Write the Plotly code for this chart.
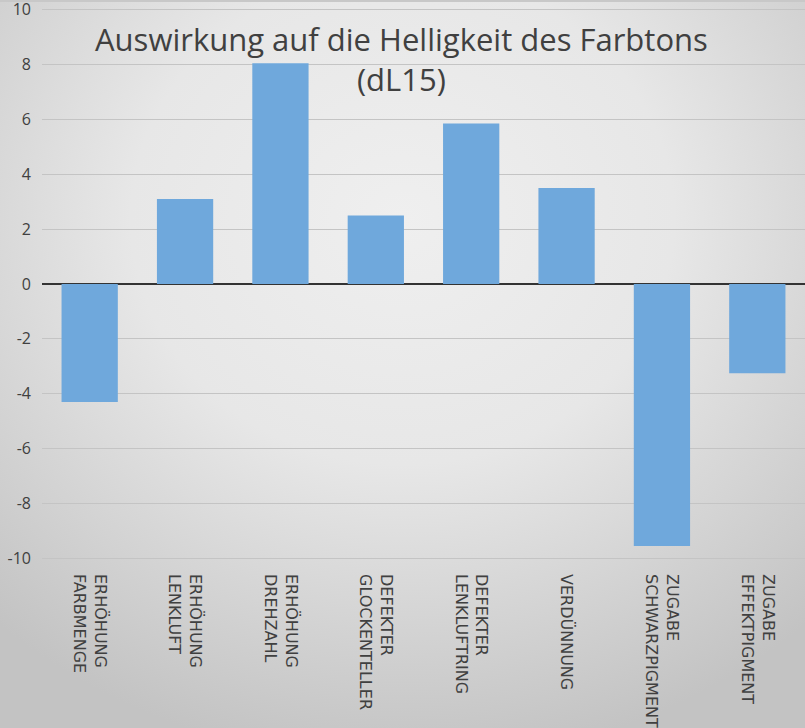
import base64
import plotly.graph_objects as go

categories = [
    "ERHÖHUNG<br>FARBMENGE",
    "ERHÖHUNG<br>LENKLUFT",
    "ERHÖHUNG<br>DREHZAHL",
    "DEFEKTER<br>GLOCKENTELLER",
    "DEFEKTER<br>LENKLUFTRING",
    "VERDÜNNUNG",
    "ZUGABE<br>SCHWARZPIGMENT",
    "ZUGABE<br>EFFEKTPIGMENT",
]
values = [-4.3, 3.1, 8.05, 2.5, 5.85, 3.5, -9.55, -3.25]
y_tickvals = [-10, -8, -6, -4, -2, 0, 2, 4, 6, 8, 10]
y_ticktext = ["-10", "-8", "-6", "-4", "-2", "0", "2", "4", "6", "8", "10"]
title_text = "Auswirkung auf die Helligkeit des Farbtons<br>(dL15)"

W, H = 805, 728
ML, MR, MT, MB = 42, 0, 7, 167
PW, PH = W - ML - MR, H - MT - MB

svg = f'''<svg xmlns="http://www.w3.org/2000/svg" width="{W}" height="{H}" viewBox="0 0 {W} {H}" preserveAspectRatio="none">
<defs><radialGradient id="g" cx="0.5" cy="0.3" r="0.75" fx="0.5" fy="0.3">
<stop offset="0" stop-color="#efefef"/>
<stop offset="0.45" stop-color="#e7e7e7"/>
<stop offset="1" stop-color="#c3c3c3"/>
</radialGradient></defs>
<rect width="{W}" height="{H}" fill="url(#g)"/>
<rect width="{W}" height="2" fill="#c8c8c8"/>
</svg>'''
bg_src = "data:image/svg+xml;base64," + base64.b64encode(svg.encode()).decode()

fig = go.Figure(
    go.Bar(
        x=categories,
        y=values,
        marker=dict(color="#6FA8DC", line=dict(width=0)),
    )
)

title_center_px = 59
fig.update_layout(
    width=W,
    height=H,
    margin=dict(l=ML, r=MR, t=MT, b=MB),
    paper_bgcolor="#dcdcdc",
    plot_bgcolor="rgba(0,0,0,0)",
    bargap=0.41,
    showlegend=False,
    font=dict(family="Open Sans", color="#404040"),
    annotations=[
        dict(
            text=title_text,
            font=dict(family="Open Sans", size=31, color="#404040"),
            xref="paper",
            yref="paper",
            x=(401 - ML) / PW,
            y=1 - (title_center_px - MT) / PH,
            xanchor="center",
            yanchor="middle",
            showarrow=False,
        )
    ],
    images=[
        dict(
            source=bg_src,
            xref="paper",
            yref="paper",
            x=-ML / PW,
            y=1 + MT / PH,
            sizex=W / PW,
            sizey=H / PH,
            xanchor="left",
            yanchor="top",
            sizing="stretch",
            layer="below",
        )
    ],
    xaxis=dict(
        tickangle=90,
        tickfont=dict(family="DejaVu Sans", size=16, color="#404040"),
        showgrid=False,
        showline=False,
        ticks="",
        ticklabelstandoff=12,
        automargin=False,
    ),
    yaxis=dict(
        range=[-10.1, 10.1],
        tickvals=y_tickvals,
        ticktext=y_ticktext,
        tickfont=dict(family="Open Sans", size=16, color="#404040"),
        showgrid=True,
        gridcolor="#c4c4c4",
        gridwidth=1,
        zeroline=True,
        zerolinecolor="#333333",
        zerolinewidth=2,
        showline=False,
        ticks="",
        ticklabelstandoff=10,
        ticklabeloverflow="allow",
        automargin=False,
    ),
)

fig.write_html(
    "out.html",
    config={"displayModeBar": False},
    post_script="document.body.style.margin='0';",
)
